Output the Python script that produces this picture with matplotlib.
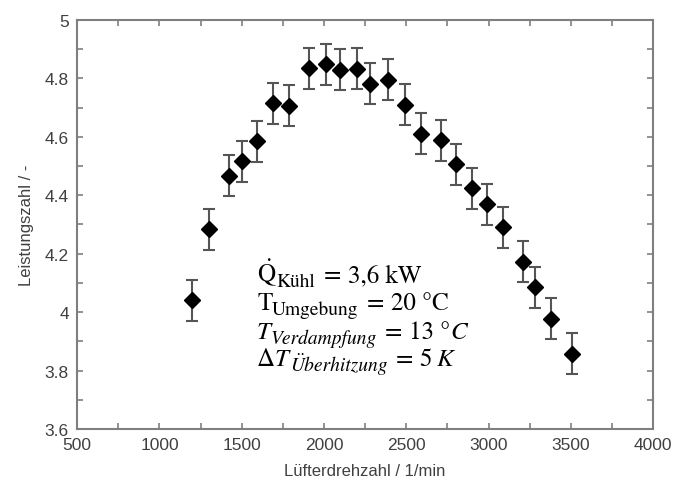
import matplotlib
matplotlib.use("Agg")
import matplotlib.pyplot as plt
from matplotlib.ticker import MultipleLocator
from matplotlib.transforms import IdentityTransform

plt.rcParams['font.family'] = ['Liberation Sans', 'DejaVu Sans']
plt.rcParams['mathtext.fontset'] = 'stix'

# fan speed in 1/min and coefficient of performance
drehzahl = [1200, 1300, 1420, 1500, 1590, 1690, 1790, 1910, 2010, 2100, 2200, 2280,
            2390, 2490, 2590, 2710, 2800, 2900, 2990, 3090, 3210, 3280, 3380, 3510]
leistungszahl = [4.04, 4.284, 4.467, 4.517, 4.584, 4.714, 4.707, 4.835, 4.849, 4.830,
                 4.833, 4.781, 4.796, 4.710, 4.611, 4.588, 4.506, 4.424, 4.369, 4.290,
                 4.173, 4.085, 3.978, 3.857]
fehler = [0.07] * len(drehzahl)

W, H = 674, 489
fig = plt.figure(figsize=(W / 100, H / 100), dpi=100)
ax = fig.add_axes([0.1145, 0.1207, 0.8545, 0.8365])

ax.errorbar(drehzahl, leistungszahl, yerr=fehler, fmt='D', color='black',
            markersize=8.5, ecolor='#555555', elinewidth=1.5, capsize=4.5,
            capthick=1.5)

ax.set_xlim(500, 4000)
ax.set_ylim(3.6, 5)
ax.xaxis.set_major_locator(MultipleLocator(500))
ax.xaxis.set_minor_locator(MultipleLocator(250))
ax.yaxis.set_major_locator(MultipleLocator(0.2))
ax.yaxis.set_minor_locator(MultipleLocator(0.1))
ax.yaxis.set_major_formatter(plt.FuncFormatter(lambda v, p: ('%.1f' % v).rstrip('0').rstrip('.')))

for s in ax.spines.values():
    s.set_color('#7f7f7f')
    s.set_linewidth(1.5)
for which in ('major', 'minor'):
    ax.tick_params(which=which, direction='in', length=4, width=1.2, color='#7f7f7f',
                   top=True, right=True)
ax.tick_params(which='major', labelsize=12.5, labelcolor='#404040', pad=6)

ax.set_xlabel("Lüfterdrehzahl / 1/min", fontsize=12, color='#404040', labelpad=8)
ax.set_ylabel("Leistungszahl / -", fontsize=12, color='#404040', labelpad=8)

# annotation: pieces of (text, size, style, baseline shift px, gap after px)
HAUPT, TIEF = 18, 14
zeilen = [
    [(r"$\dot{\mathrm{Q}}$", HAUPT, 'normal', 0, 0), ("Kühl", TIEF, 'normal', -5, 8),
     ("=", HAUPT, 'normal', 0, 7), ("3,6 kW", HAUPT, 'normal', 0, 0)],
    [("T", HAUPT, 'normal', 0, 0), ("Umgebung", TIEF, 'normal', -5, 8),
     ("=", HAUPT, 'normal', 0, 7), ("20 °C", HAUPT, 'normal', 0, 0)],
    [("T", HAUPT, 'italic', 0, 0), ("Verdampfung", TIEF, 'italic', -5, 8),
     ("=", HAUPT, 'normal', 0, 7), ("13 °", HAUPT, 'normal', 0, 0),
     ("C", HAUPT, 'italic', 0, 0)],
    [("Δ", HAUPT, 'normal', 0, 0), ("T", HAUPT, 'italic', 0, 1),
     ("Überhitzung", TIEF, 'italic', -5, 8), ("=", HAUPT, 'normal', 0, 7),
     ("5", HAUPT, 'normal', 0, 5), ("K", HAUPT, 'italic', 0, 0)],
]
grundlinien = [282, 310, 339, 366]
x_start = 257

renderer = fig.canvas.get_renderer()
for teile, gl in zip(zeilen, grundlinien):
    x = x_start
    for txt, size, style, dy, gap in teile:
        t = fig.text(x, H - gl + dy, txt, transform=IdentityTransform(),
                     fontsize=size, fontstyle=style, family='STIXGeneral',
                     ha='left', va='baseline', color='black')
        x += t.get_window_extent(renderer).width + gap

fig.savefig("out.png", dpi=100)
